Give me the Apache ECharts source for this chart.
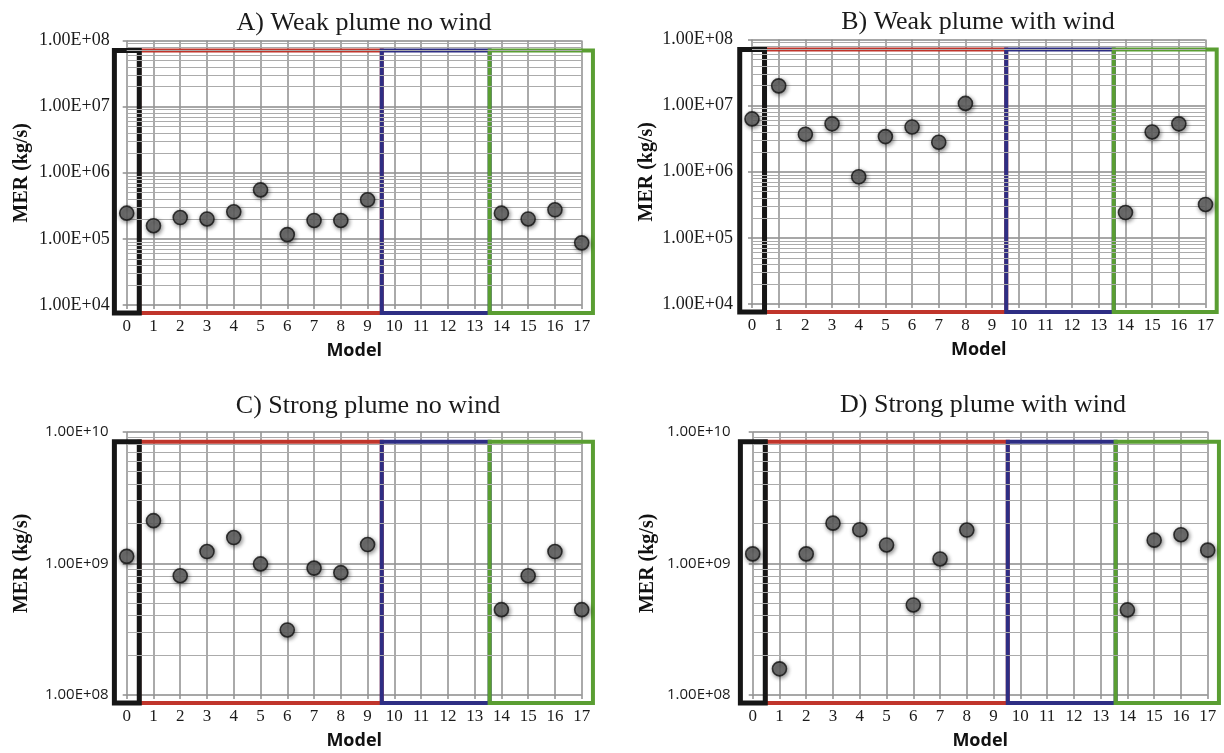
<!DOCTYPE html>
<html><head><meta charset="utf-8">
<script src="https://cdn.jsdelivr.net/npm/echarts@6/dist/echarts.min.js"></script>
<style>html,body{margin:0;padding:0;background:#fff}#c{width:1224px;height:753px}</style>
</head><body><div id="c"></div>
<script>
// ---- data ----
const models = [0,1,2,3,4,5,6,7,8,9,10,11,12,13,14,15,16,17];
const weakNoWind   = [2.45e5,1.58e5,2.1e5,2.0e5,2.57e5,5.5e5,1.16e5,1.9e5,1.9e5,3.9e5,null,null,null,null,2.45e5,2.0e5,2.75e5,8.7e4];
const weakWind     = [6.3e6,1.99e7,3.7e6,5.3e6,8.4e5,3.4e6,4.75e6,2.8e6,1.08e7,null,null,null,null,null,2.42e5,4.0e6,5.3e6,3.2e5];
const strongNoWind = [1.13e9,2.11e9,8.06e8,1.23e9,1.57e9,9.9e8,3.12e8,9.2e8,8.5e8,1.39e9,null,null,null,null,4.45e8,8.06e8,1.23e9,4.45e8];
const strongWind   = [1.18e9,1.58e8,1.18e9,2.02e9,1.80e9,1.38e9,4.83e8,1.08e9,1.79e9,null,null,null,null,null,4.43e8,1.5e9,1.65e9,1.26e9];
const weakYTicks   = [1e4,1e5,1e6,1e7,1e8];
const strongYTicks = [1e8,1e9,1e10];
const minorFactors = [2,3,4,5,6,7,8,9];
const groupStart = [0.47, 9.53, 13.56, -0.46];
const groupEnd   = [9.53, 13.56, 17.42, 0.47];
const panelTitles = ['A) Weak plume no wind','B) Weak plume with wind','C) Strong plume no wind','D) Strong plume with wind'];
const xName = 'Model';
const yName = 'MER (kg/s)';

// ---- layout / style ----
const SERIF = 'Liberation Serif';
const groupColors = ['#c0352b','#2e2e84','#5a9e32','#161616'];
const groupWidths = [4,4,4,5];
const panels = [
  {title:panelTitles[0], data:weakNoWind,   ticks:weakYTicks,   left:126.7, width:455,   top:40.5,  height:264.5, tx:364, ty:10,  lf:SERIF, ls:18, lm:17},
  {title:panelTitles[1], data:weakWind,     ticks:weakYTicks,   left:752,   width:453.5, top:39.5,  height:264.5, tx:978, ty:9,   lf:SERIF, ls:18, lm:19},
  {title:panelTitles[2], data:strongNoWind, ticks:strongYTicks, left:126.7, width:455,   top:431.7, height:263.3, tx:368, ty:393, lf:'Open Sans', ls:15, lm:18},
  {title:panelTitles[3], data:strongWind,   ticks:strongYTicks, left:752.7, width:455,   top:431.7, height:263.3, tx:983, ty:392, lf:'Open Sans', ls:15, lm:22}
];

function expLabel(v){
  const parts = v.toExponential(2).split('e');
  const e = parseInt(parts[1],10);
  return parts[0] + 'E' + (e<0?'-':'+') + String(Math.abs(e)).padStart(2,'0');
}

const grid=[], xAxis=[], yAxis=[], series=[], graphic=[];
panels.forEach((p,i)=>{
  grid.push({left:p.left, top:p.top, width:p.width, height:p.height, containLabel:false});
  xAxis.push({
    type:'value', gridIndex:i, min:0, max:17, interval:1,
    axisLine:{show:false},
    axisTick:{show:true, length:4, lineStyle:{color:'#8f8f8f', width:1.5}},
    axisLabel:{fontFamily:SERIF, fontSize:17, color:'#1a1a1a', margin:13,
      formatter:(v)=>String(models[v])},
    splitLine:{show:true, lineStyle:{color:'#959595', width:1.6}},
    name:xName, nameLocation:'middle', nameGap:37,
    nameTextStyle:{fontFamily:'Open Sans', fontWeight:'bold', fontSize:18, color:'#111'}
  });
  const t = p.ticks;
  yAxis.push({
    type:'log', logBase:10, gridIndex:i, min:t[0], max:t[t.length-1], splitNumber:t.length-1,
    axisLine:{show:false},
    axisTick:{show:true, length:4, lineStyle:{color:'#8f8f8f', width:1.5}},
    axisLabel:{fontFamily:p.lf, fontSize:p.ls, color:'#1a1a1a', margin:p.lm, formatter:expLabel},
    splitLine:{show:true, lineStyle:{color:'#8a8a8a', width:1.6}},
    name:yName, nameLocation:'middle', nameGap:95,
    nameTextStyle:{fontFamily:SERIF, fontWeight:'bold', fontSize:20, color:'#111'}
  });
  const minor=[];
  for(let k=0;k<t.length-1;k++){ minorFactors.forEach(f=>minor.push({yAxis:f*t[k]})); }
  series.push({
    type:'line', xAxisIndex:i, yAxisIndex:i, data:[], z:1, silent:true,
    markLine:{silent:true, symbol:'none', animation:false, label:{show:false},
      lineStyle:{type:'solid', color:'#ababab', width:1.2}, data:minor}
  });
  series.push({
    type:'custom', xAxisIndex:i, yAxisIndex:i, clip:false, silent:true, z:2,
    data: groupStart.map((s,g)=>[s, groupEnd[g], t[0], g]),
    encode:{x:[0,1], y:2},
    renderItem:(params, api)=>{
      const cs = params.coordSys;
      const x0 = api.coord([api.value(0), api.value(2)])[0];
      const x1 = api.coord([api.value(1), api.value(2)])[0];
      const g = api.value(3);
      const y0 = cs.y + 10, y1 = cs.y + cs.height + 8;
      return {type:'rect', shape:{x:x0, y:y0, width:x1-x0, height:y1-y0},
        style:{fill:'none', stroke:groupColors[g], lineWidth:groupWidths[g]}};
    }
  });
  series.push({
    type:'scatter', xAxisIndex:i, yAxisIndex:i, z:5, symbolSize:14,
    data: models.map((m,k)=>[m, p.data[k]]).filter(d=>d[1]!=null),
    itemStyle:{color:'#636363', borderColor:'#111', borderWidth:1.6,
      shadowBlur:4, shadowColor:'rgba(0,0,0,0.55)', shadowOffsetX:1, shadowOffsetY:1.5}
  });
  graphic.push({type:'text', x:p.tx, y:p.ty,
    style:{text:p.title, font:'26px "Liberation Serif"', fill:'#1a1a1a', textAlign:'center', textVerticalAlign:'top'}});
});

const chart = echarts.init(document.getElementById('c'));
chart.setOption({animation:false, backgroundColor:'#fff', textStyle:{fontFamily:SERIF},
  grid, xAxis, yAxis, series, graphic});
</script></body></html>
